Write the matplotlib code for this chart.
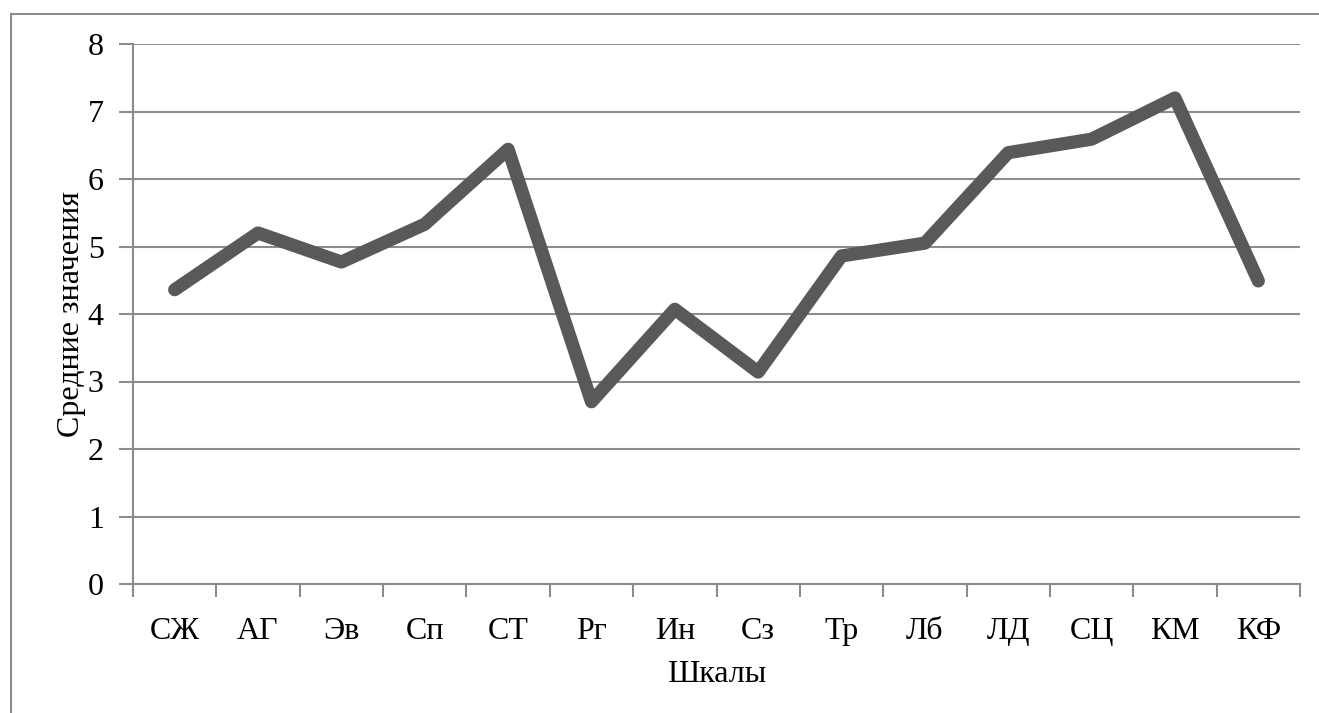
import matplotlib
matplotlib.use('Agg')
import matplotlib.pyplot as plt
from matplotlib.lines import Line2D
import numpy as np

plt.rcParams['font.family'] = ['Liberation Serif', 'DejaVu Serif']

# шкалы и средние значения
scales = ['СЖ', 'АГ', 'Эв', 'Сп', 'СТ', 'Рг', 'Ин', 'Сз', 'Тр', 'Лб', 'ЛД', 'СЦ', 'КМ', 'КФ']
means = [4.36, 5.2, 4.77, 5.33, 6.44, 2.70, 4.07, 3.14, 4.86, 5.05, 6.39, 6.59, 7.2, 4.49]

GRID = '#8c8c8c'
LINE = '#595959'
FS = 23

W, H = 1319, 713
fig = plt.figure(figsize=(W / 100, H / 100), dpi=100)
fig.patch.set_facecolor('white')

# рамка диаграммы (верх и левый край)
fig.add_artist(Line2D([11 / W, 1.0], [1 - 14 / H, 1 - 14 / H], color=GRID, lw=1.5))
fig.add_artist(Line2D([11 / W, 11 / W], [1 - 14 / H, 0.0], color=GRID, lw=1.5))

ax = fig.add_axes([133 / W, 1 - 584 / H, 1167 / W, 540 / H])

x = np.arange(len(scales))
ax.plot(x, means, color=LINE, linewidth=9.5, solid_joinstyle='round',
        solid_capstyle='round', zorder=3)

ax.set_xlim(-0.5, len(scales) - 0.5)
ax.set_ylim(0, 8)
ax.set_yticks(range(0, 9))
ax.set_xticks(x)
ax.set_xticklabels(scales)
ax.set_xticks(np.arange(-0.5, len(scales), 1), minor=True)

ax.grid(True, axis='y', color=GRID, linewidth=1.5)
ax.set_axisbelow(True)
for side in ['top', 'right']:
    ax.spines[side].set_visible(False)
for side in ['left', 'bottom']:
    ax.spines[side].set_color(GRID)
    ax.spines[side].set_linewidth(1.5)

ax.tick_params(axis='y', length=10, width=1.5, color=GRID, labelsize=FS, pad=11)
ax.tick_params(axis='x', which='major', length=0, labelsize=FS, pad=24)
ax.tick_params(axis='x', which='minor', length=9, width=1.5, color=GRID)

ax.set_xlabel('Шкалы', fontsize=FS, labelpad=10)
ax.set_ylabel('Средние значения', fontsize=FS, labelpad=1)

fig.savefig('out.png', dpi=100)
